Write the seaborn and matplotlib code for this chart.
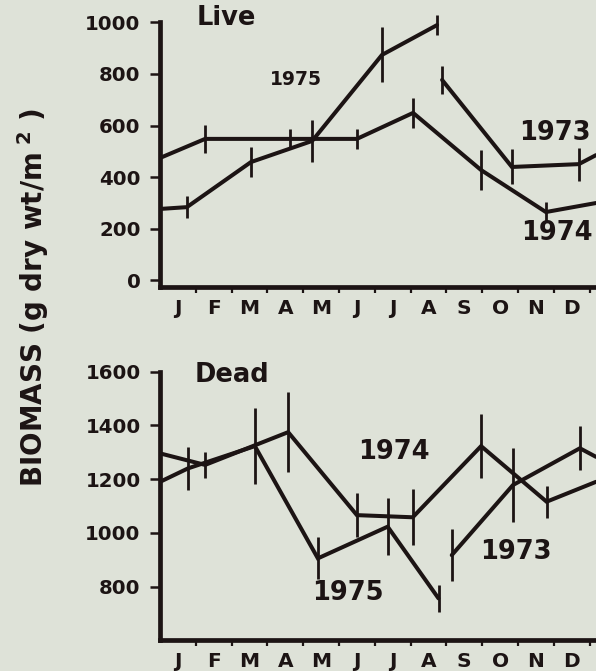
import numpy as np
import pandas as pd
import matplotlib
matplotlib.use("Agg")
import matplotlib.pyplot as plt
import seaborn as sns

# ---------------- data ----------------
months = ["J", "F", "M", "A", "M", "J", "J", "A", "S", "O", "N", "D"]

# Live biomass (g dry wt / m^2); x = month position (0 = 1 Jan, 12 = 31 Dec)
live_1973_x = [7.88, 9.83, 11.70, 12.18]
live_1973_y = [777, 439, 450, 485]
live_1973_e = [54, 68, 64, 0]

live_1974_x = [0.00, 1.26, 3.63, 5.50, 7.07, 8.97, 10.78, 12.18]
live_1974_y = [474, 548, 548, 548, 649, 427, 264, 299]
live_1974_e = [0, 54, 39, 39, 58, 78, 39, 0]

live_1975_x = [0.00, 0.75, 2.54, 4.25, 6.20, 7.74]
live_1975_y = [276, 283, 458, 540, 874, 990]
live_1975_e = [0, 43, 58, 83, 107, 39]

# Dead biomass
dead_1973_x = [8.15, 9.86, 11.73, 12.18]
dead_1973_y = [917, 1178, 1315, 1283]
dead_1973_e = [96, 138, 82, 0]

dead_1974_x = [0.00, 1.26, 3.58, 5.50, 7.06, 8.97, 10.80, 12.18]
dead_1974_y = [1296, 1253, 1375, 1066, 1058, 1323, 1116, 1190]
dead_1974_e = [0, 47, 150, 82, 105, 118, 59, 0]

dead_1975_x = [0.00, 0.78, 2.65, 4.41, 6.36, 7.78]
dead_1975_y = [1190, 1240, 1323, 905, 1023, 756]
dead_1975_e = [0, 81, 141, 78, 106, 50]

live_ticks = [0, 200, 400, 600, 800, 1000]
dead_ticks = [800, 1000, 1200, 1400, 1600]

# ---------------- style ----------------
sns.set_theme(style="ticks")
plt.rcParams["font.family"] = ["DejaVu Sans"]
plt.rcParams["font.weight"] = "bold"

BG = "#dee2d8"
INK = "#1c1414"

fig = plt.figure(figsize=(5.96, 6.71), dpi=100, facecolor=BG)

ax_live = fig.add_axes([0.2685, 0.5723, 0.7315, 0.3942])
ax_dead = fig.add_axes([0.2685, 0.0462, 0.7315, 0.3998])


def draw(ax, series):
    frames = []
    for name, xs, ys, es in series:
        frames.append(pd.DataFrame({"month": xs, "biomass": ys, "err": es, "year": name}))
    df = pd.concat(frames, ignore_index=True)
    sns.lineplot(data=df, x="month", y="biomass", units="year", estimator=None,
                 sort=False, color=INK, lw=2.9, ax=ax, legend=False,
                 solid_joinstyle="miter")
    eb = df[df["err"] > 0]
    ax.vlines(eb["month"], eb["biomass"] - eb["err"], eb["biomass"] + eb["err"],
              color=INK, lw=2.0, clip_on=False, zorder=3)


def style(ax, ylim, yticks):
    ax.set_facecolor(BG)
    ax.set_xlim(0, 12.18)
    ax.set_ylim(*ylim)
    ax.set_yticks(yticks)
    ax.set_yticklabels([str(t) for t in yticks])
    ax.set_xticks(np.arange(1, 13))
    ax.set_xticklabels([])
    ax.set_xticks(np.arange(0.5, 12, 1), minor=True)
    ax.set_xticklabels(months, minor=True)
    ax.tick_params(axis="x", which="major", length=4, width=1.6, color=INK, direction="out")
    ax.tick_params(axis="x", which="minor", length=0, pad=9, labelsize=14.5, labelcolor=INK)
    ax.tick_params(axis="y", length=7, width=1.8, color=INK, pad=7, labelsize=14.2, labelcolor=INK)
    for lab in ax.get_xticklabels(minor=True) + ax.get_yticklabels():
        lab.set_fontweight("bold")
    sns.despine(ax=ax)
    for s in ("left", "bottom"):
        ax.spines[s].set_linewidth(3.4)
        ax.spines[s].set_color(INK)
    ax.set_xlabel("")
    ax.set_ylabel("")
    ax.grid(False)


draw(ax_live, [("1973", live_1973_x, live_1973_y, live_1973_e),
               ("1974", live_1974_x, live_1974_y, live_1974_e),
               ("1975", live_1975_x, live_1975_y, live_1975_e)])
style(ax_live, (-27, 1000), live_ticks)

draw(ax_dead, [("1973", dead_1973_x, dead_1973_y, dead_1973_e),
               ("1974", dead_1974_x, dead_1974_y, dead_1974_e),
               ("1975", dead_1975_x, dead_1975_y, dead_1975_e)])
style(ax_dead, (601, 1600), dead_ticks)

big = dict(color=INK, fontsize=18.5, fontweight="bold", ha="center", va="center")

ax_live.text(1.84, 1017, "Live", clip_on=False, **big)
ax_live.text(3.8, 780, "1975", color=INK, fontsize=13.5, fontweight="bold", ha="center", va="center")
ax_live.text(11.03, 571, "1973", **big)
ax_live.text(11.09, 183, "1974", **big)

ax_dead.text(2.0, 1588, "Dead", clip_on=False, **big)
ax_dead.text(6.54, 1301, "1974", **big)
ax_dead.text(5.24, 776, "1975", **big)
ax_dead.text(9.94, 927, "1973", **big)

fig.text(0.055, 1 - 298 / 671, "BIOMASS (g dry wt/m$^{\\ 2}$ )", rotation=90,
         ha="center", va="center", color=INK, fontsize=20, fontweight="bold")

fig.savefig("out.png", dpi=100, facecolor=BG)
